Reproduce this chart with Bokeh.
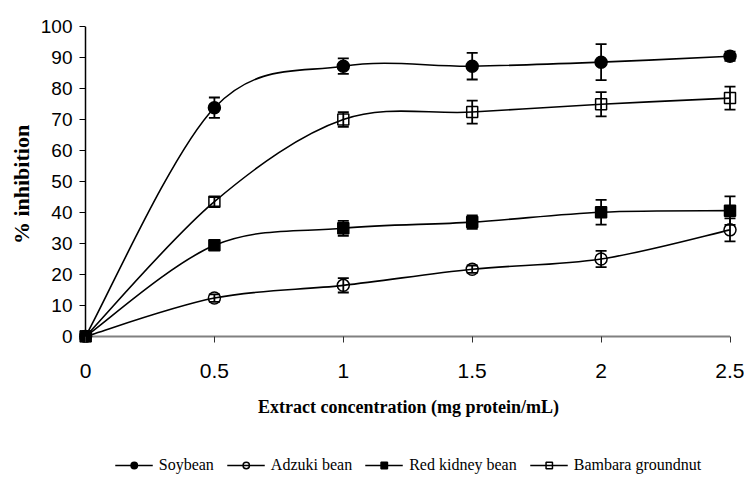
import numpy as np
from bokeh.plotting import figure
from bokeh.layouts import column
from bokeh.models import (Range1d, FixedTicker, Legend, LegendItem, Whisker,
                          ColumnDataSource, TeeHead)
from bokeh.embed import file_html
from bokeh.resources import INLINE

# ---- data ----
conc = [0, 0.5, 1.0, 1.5, 2.0, 2.5]
x_tick_labels = ["0", "0.5", "1", "1.5", "2", "2.5"]
y_ticks = [0, 10, 20, 30, 40, 50, 60, 70, 80, 90, 100]

soybean = [0, 73.8, 87.2, 87.2, 88.5, 90.4]
soybean_err = [0, 3.3, 2.5, 4.3, 5.8, 1.5]
adzuki = [0, 12.4, 16.5, 21.7, 25.0, 34.4]
adzuki_err = [0, 1.2, 2.3, 1.2, 2.6, 3.7]
red_kidney = [0, 29.4, 34.9, 36.9, 40.1, 40.6]
red_kidney_err = [0, 1.5, 2.4, 2.2, 4.0, 4.6]
bambara = [0, 43.5, 70.0, 72.4, 74.9, 76.9]
bambara_err = [0, 1.5, 2.4, 3.7, 3.9, 3.7]

series = [
    ("Soybean", soybean, soybean_err, "circle", True),
    ("Adzuki bean", adzuki, adzuki_err, "circle", False),
    ("Red kidney bean", red_kidney, red_kidney_err, "square", True),
    ("Bambara groundnut", bambara, bambara_err, "square", False),
]

# ---- layout (pixels) ----
W = 744
H_MAIN, H_LEG = 439, 52
FL, FR, FT, FB = 79, 737, 26, 342          # frame edges of the main figure
AX_X0, AX_X1 = 85.0, 729.5                 # pixel of x=0 and x=2.5
AX_Y0 = 336.0                              # pixel of y=0
x_lo, x_hi = conc[0], conc[-1]
y_lo, y_hi = y_ticks[0], y_ticks[-1]
xs = (AX_X1 - AX_X0) / (x_hi - x_lo)
ys = (AX_Y0 - FT) / (y_hi - y_lo)
x_range = Range1d(x_lo - (AX_X0 - FL) / xs, x_hi + (FR - AX_X1) / xs)
y_range = Range1d(y_lo - (FB - AX_Y0) / ys, y_hi)

p = figure(width=W, height=H_MAIN, x_range=x_range, y_range=y_range,
           output_backend="svg", toolbar_location=None,
           min_border_left=FL, min_border_right=W - FR, min_border_top=FT,
           min_border_bottom=H_MAIN - FB)
p.outline_line_color = None
p.grid.visible = False
p.background_fill_color = "white"
p.border_fill_color = "white"

# legend strip below the chart
pl = figure(width=W, height=H_LEG, x_range=Range1d(1, 2), y_range=Range1d(1, 2),
            output_backend="svg", toolbar_location=None,
            min_border_left=0, min_border_right=0, min_border_top=0,
            min_border_bottom=0)
pl.axis.visible = False
pl.grid.visible = False
pl.outline_line_color = None
pl.background_fill_color = "white"
pl.border_fill_color = "white"

# axis lines at x = 0 and y = 0
p.segment(x0=[x_lo], y0=[y_lo], x1=[x_hi], y1=[y_lo], line_color="#808080", line_width=2)
p.segment(x0=[x_lo], y0=[y_lo], x1=[x_lo], y1=[y_hi], line_color="black", line_width=1.5)


def smooth_segments(xv, yv):
    """Excel-like smoothed line: cubic Bezier control points from the data points."""
    xv = np.asarray(xv, float)
    yv = np.asarray(yv, float)
    n = len(xv)
    xp = np.concatenate([[xv[0]], xv, [xv[-1]]])
    yp = np.concatenate([[yv[0]], yv, [yv[-1]]])
    x0, y0 = xv[:-1], yv[:-1]
    x1, y1 = xv[1:], yv[1:]
    cx0 = x0 + (xp[2:n + 1] - xp[0:n - 1]) / 6.0
    cy0 = y0 + (yp[2:n + 1] - yp[0:n - 1]) / 6.0
    cx1 = x1 - (xp[3:n + 2] - xp[1:n]) / 6.0
    cy1 = y1 - (yp[3:n + 2] - yp[1:n]) / 6.0
    return dict(x0=x0, y0=y0, x1=x1, y1=y1, cx0=cx0, cy0=cy0, cx1=cx1, cy1=cy1)


items = []
for name, vals, err, marker, filled in series:
    seg = smooth_segments(conc, vals)
    p.bezier(source=ColumnDataSource(seg), x0="x0", y0="y0", x1="x1", y1="y1",
             cx0="cx0", cy0="cy0", cx1="cx1", cy1="cy1",
             line_color="black", line_width=1.6)

    v = np.asarray(vals, float)
    e = np.asarray(err, float)
    src = ColumnDataSource(dict(x=conc, y=vals, lo=v - e, hi=v + e))
    w = Whisker(source=src, base="x", lower="lo", upper="hi", dimension="height",
                line_color="black", line_width=1.8, level="underlay",
                upper_head=TeeHead(size=11, line_color="black", line_width=1.8),
                lower_head=TeeHead(size=11, line_color="black", line_width=1.8))
    p.add_layout(w)

    sz = 12 if marker == "circle" else 11
    style = dict(marker=marker, line_color="black", line_width=1.5,
                 fill_color="black" if filled else None,
                 fill_alpha=1.0 if filled else 0.0)
    p.scatter("x", "y", source=src, size=sz, **style)

    # legend samples (their single point lies outside the strip's ranges)
    lg_line = pl.line(x=conc[:1], y=vals[:1], line_color="black", line_width=1.6)
    lg_mark = pl.scatter(x=conc[:1], y=vals[:1], size=sz, **style)
    items.append(LegendItem(label=name, renderers=[lg_line, lg_mark]))

legend = Legend(items=items, orientation="horizontal", location="center",
                glyph_width=38, glyph_height=16, label_standoff=6, spacing=13,
                padding=2, margin=0, border_line_color=None,
                background_fill_alpha=0,
                label_text_font="Liberation Serif", label_text_font_size="16px",
                label_text_color="black")
pl.add_layout(legend, "center")

# ---- axes (lines drawn above; ticks reach from the frame edge to the axis line) ----
xa = p.xaxis[0]
xa.ticker = FixedTicker(ticks=conc)
xa.major_label_overrides = {t: s for t, s in zip(conc, x_tick_labels)}
xa.axis_line_color = None
xa.major_tick_line_color = "#303030"
xa.major_tick_out = 0
xa.major_tick_in = int(FB - AX_Y0)
xa.minor_tick_line_color = None
xa.major_label_text_font = "Liberation Sans"
xa.major_label_text_font_size = "21px"
xa.major_label_text_color = "black"
xa.major_label_standoff = 21
xa.axis_label = "Extract concentration (mg protein/mL)"
xa.axis_label_text_font = "Liberation Serif"
xa.axis_label_text_font_style = "bold"
xa.axis_label_text_font_size = "18px"
xa.axis_label_text_color = "black"
xa.axis_label_standoff = 16

ya = p.yaxis[0]
ya.ticker = FixedTicker(ticks=y_ticks)
ya.axis_line_color = None
ya.major_tick_line_color = "black"
ya.major_tick_out = 0
ya.major_tick_in = int(AX_X0 - FL)
ya.minor_tick_line_color = None
ya.major_label_text_font = "Liberation Sans"
ya.major_label_text_font_size = "19px"
ya.major_label_text_color = "black"
ya.major_label_standoff = 7
ya.axis_label = "% inhibition"
ya.axis_label_text_font = "Liberation Serif"
ya.axis_label_text_font_style = "bold"
ya.axis_label_text_font_size = "22px"
ya.axis_label_text_color = "black"
ya.axis_label_standoff = 4

layout = column(p, pl, spacing=0)
open("out.html", "w").write(file_html(layout, INLINE))
